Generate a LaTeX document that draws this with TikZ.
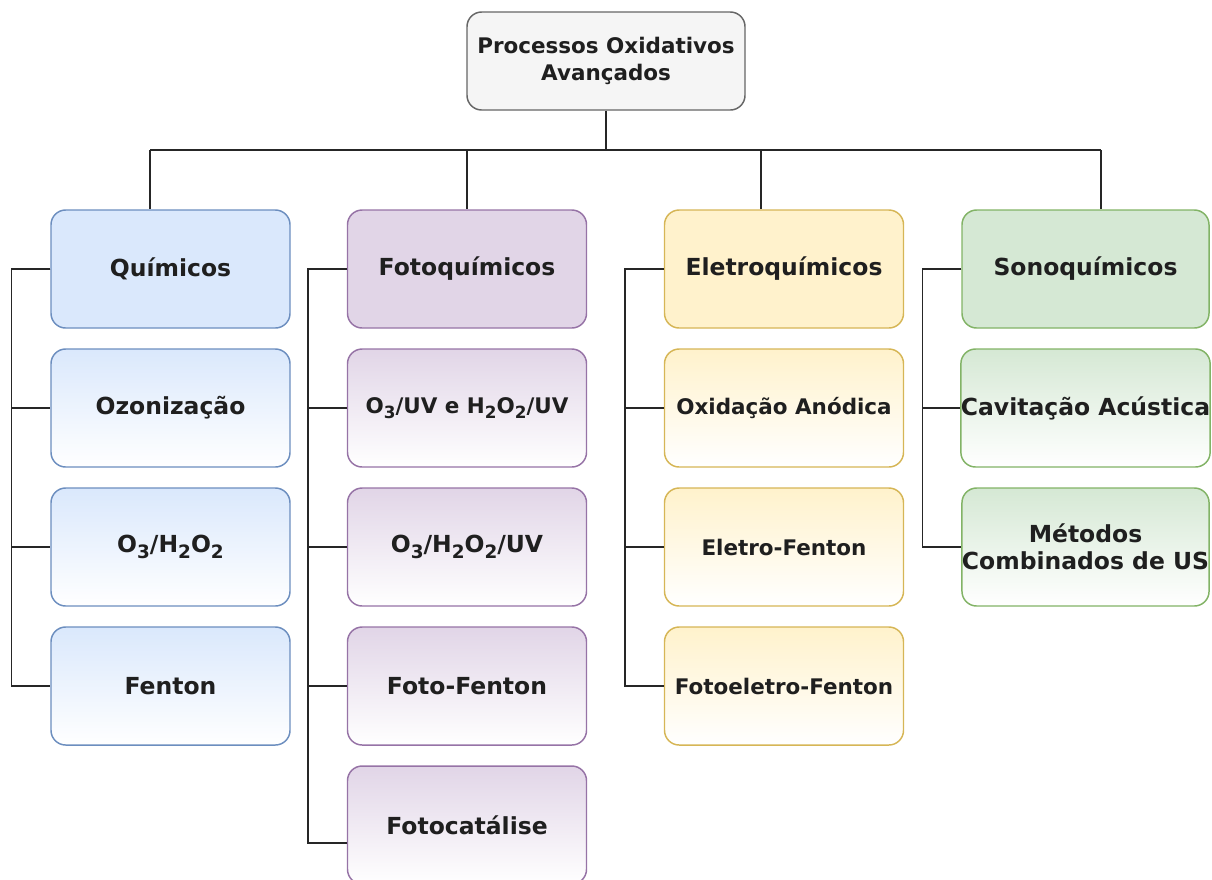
\documentclass[tikz,border=0pt]{standalone}
\usepackage{fontspec}
\setmainfont{DejaVu Sans}
\definecolor{blueF}{HTML}{DAE8FC}\definecolor{blueD}{HTML}{6C8EBF}
\definecolor{purpF}{HTML}{E1D5E7}\definecolor{purpD}{HTML}{9673A6}
\definecolor{yellF}{HTML}{FFF2CC}\definecolor{yellD}{HTML}{D6B656}
\definecolor{grenF}{HTML}{D5E8D4}\definecolor{grenD}{HTML}{82B366}
\definecolor{greyF}{HTML}{F5F5F5}\definecolor{greyD}{HTML}{666666}
\newcommand{\nsz}{\fontsize{17.6pt}{20.5pt}\selectfont\bfseries}
\newcommand{\ssz}{\fontsize{16.1pt}{20.5pt}\selectfont\bfseries}
\newcommand{\nsb}[1]{\raisebox{-0.45ex}{\fontsize{13.8pt}{14pt}\selectfont #1}}
\newcommand{\ssb}[1]{\raisebox{-0.45ex}{\fontsize{12.6pt}{13pt}\selectfont #1}}
\begin{document}
\begin{tikzpicture}[x=0.75pt,y=-0.75pt,
  box/.style={rectangle, rounded corners=11pt, line width=1.1pt, inner sep=0pt,
    minimum width=179.25pt, minimum height=88.5pt, align=center, font=\nsz, text=black!88},
  hdr/.style={box, draw=#1D, fill=#1F},
  kid/.style={box, draw=#1D, top color=#1F, bottom color=white},
  conn/.style={line width=1.1pt, black!85}]
\useasboundingbox (0,0) rectangle (1212,879);
% top
\node[box, draw=greyD, fill=greyF, minimum width=208.5pt, minimum height=73.5pt, font=\ssz] (top) at (606,61) {Processos Oxidativos\\Avançados};
% column 1
\node[hdr=blue] (q) at (170.5,269) {Químicos};
\node[kid=blue] (oz) at (170.5,408) {Ozonização};
\node[kid=blue] (oh) at (170.5,547) {O\nsb{3}/H\nsb{2}O\nsb{2}};
\node[kid=blue] (fe) at (170.5,686) {Fenton};
% column 2
\node[hdr=purp] (fq) at (467,269) {Fotoquímicos};
\node[kid=purp, font=\ssz] (ouv) at (467,408) {O\ssb{3}/UV e H\ssb{2}O\ssb{2}/UV};
\node[kid=purp] (ohuv) at (467,547) {O\nsb{3}/H\nsb{2}O\nsb{2}/UV};
\node[kid=purp] (ff) at (467,686) {Foto-Fenton};
\node[kid=purp] (fc) at (467,825) {Fotocatálise};
% column 3
\node[hdr=yell] (eq) at (784,269) {Eletroquímicos};
\node[kid=yell, font=\ssz] (oa) at (784,408) {Oxidação Anódica};
\node[kid=yell, font=\ssz] (ef) at (784,547) {Eletro-Fenton};
\node[kid=yell, font=\ssz] (fef) at (784,686) {Fotoeletro-Fenton};
% column 4
\node[hdr=gren, minimum width=185.25pt] (sq) at (1085.5,269) {Sonoquímicos};
\node[kid=gren, minimum width=185.25pt] (ca) at (1085.5,408) {Cavitação Acústica};
\node[kid=gren, minimum width=185.25pt] (mc) at (1085.5,547) {Métodos\\Combinados de US};
% bus
\coordinate (b1) at (150,150);
\coordinate (b2) at (467,150);
\coordinate (b3) at (761,150);
\coordinate (b4) at (1101,150);
\draw[conn] (top.south) -- (top.south |- b1);
\draw[conn] (b1) -- (b4);
\draw[conn] (b1) -- (b1 |- q.north);
\draw[conn] (b2) -- (b2 |- fq.north);
\draw[conn] (b3) -- (b3 |- eq.north);
\draw[conn] (b4) -- (b4 |- sq.north);
% spines
\foreach \h/\c in {q/oz,q/oh,q/fe,fq/ouv,fq/ohuv,fq/ff,eq/oa,eq/ef,eq/fef,sq/ca,sq/mc}
  \draw[conn] (\h.west) -- ++(-39,0) |- (\c.west);
\draw[conn] (fq.west) -- ++(-39,0) |- ([yshift=-13.5pt]fc.west);
\end{tikzpicture}
\end{document}
